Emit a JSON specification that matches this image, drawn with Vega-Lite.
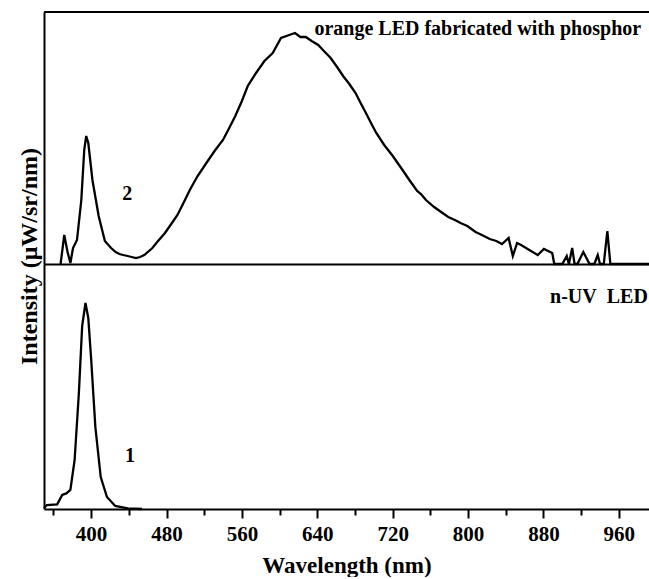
{
  "$schema": "https://vega.github.io/schema/vega-lite/v6.json",
  "padding": {"left": 16, "top": 11, "right": 0, "bottom": 0},
  "background": "white",
  "spacing": 0,
  "bounds": "flush",
  "config": {
    "view": {"stroke": null},
    "font": "Liberation Serif",
    "axis": {"grid": false, "domainColor": "black", "domainWidth": 2, "tickColor": "black", "labelColor": "black", "titleColor": "black"}
  },
  "datasets": {
    "orange": [
      {"wavelength": 367.6, "intensity": 0},
      {"wavelength": 371.5, "intensity": 29},
      {"wavelength": 375, "intensity": 12},
      {"wavelength": 378, "intensity": 1},
      {"wavelength": 380.8, "intensity": 16},
      {"wavelength": 385, "intensity": 24},
      {"wavelength": 389.6, "intensity": 64},
      {"wavelength": 392.7, "intensity": 114},
      {"wavelength": 394.8, "intensity": 128},
      {"wavelength": 397, "intensity": 121},
      {"wavelength": 401.4, "intensity": 84},
      {"wavelength": 408, "intensity": 48},
      {"wavelength": 414.6, "intensity": 23},
      {"wavelength": 421.2, "intensity": 16},
      {"wavelength": 426, "intensity": 12},
      {"wavelength": 430, "intensity": 10},
      {"wavelength": 434, "intensity": 9},
      {"wavelength": 438.8, "intensity": 8},
      {"wavelength": 443, "intensity": 7},
      {"wavelength": 447.6, "intensity": 6},
      {"wavelength": 452, "intensity": 7},
      {"wavelength": 456.4, "intensity": 9},
      {"wavelength": 465, "intensity": 16},
      {"wavelength": 471, "intensity": 23},
      {"wavelength": 478.4, "intensity": 31},
      {"wavelength": 485, "intensity": 40},
      {"wavelength": 491.6, "intensity": 49},
      {"wavelength": 498, "intensity": 61},
      {"wavelength": 504.7, "intensity": 74},
      {"wavelength": 513, "intensity": 88},
      {"wavelength": 522.3, "intensity": 101},
      {"wavelength": 531, "intensity": 113},
      {"wavelength": 539.9, "intensity": 124},
      {"wavelength": 546, "intensity": 135},
      {"wavelength": 553, "intensity": 148},
      {"wavelength": 560, "intensity": 163},
      {"wavelength": 566.2, "intensity": 178},
      {"wavelength": 575, "intensity": 191},
      {"wavelength": 583.9, "intensity": 203},
      {"wavelength": 592.7, "intensity": 211},
      {"wavelength": 601.5, "intensity": 226},
      {"wavelength": 610.2, "intensity": 229},
      {"wavelength": 616.4, "intensity": 231},
      {"wavelength": 622, "intensity": 227},
      {"wavelength": 627.8, "intensity": 227},
      {"wavelength": 634, "intensity": 223},
      {"wavelength": 641, "intensity": 219},
      {"wavelength": 647, "intensity": 213},
      {"wavelength": 654.2, "intensity": 206},
      {"wavelength": 661, "intensity": 197},
      {"wavelength": 667.4, "intensity": 188},
      {"wavelength": 674, "intensity": 180},
      {"wavelength": 680.6, "intensity": 171},
      {"wavelength": 686, "intensity": 161},
      {"wavelength": 691.6, "intensity": 151},
      {"wavelength": 697, "intensity": 141},
      {"wavelength": 702.6, "intensity": 131},
      {"wavelength": 711, "intensity": 119},
      {"wavelength": 720.1, "intensity": 108},
      {"wavelength": 729, "intensity": 96},
      {"wavelength": 737.7, "intensity": 84},
      {"wavelength": 746, "intensity": 73},
      {"wavelength": 750, "intensity": 70},
      {"wavelength": 755.3, "intensity": 64},
      {"wavelength": 764, "intensity": 57},
      {"wavelength": 772.9, "intensity": 51},
      {"wavelength": 779, "intensity": 47},
      {"wavelength": 786, "intensity": 44},
      {"wavelength": 792, "intensity": 41},
      {"wavelength": 799.2, "intensity": 38},
      {"wavelength": 808, "intensity": 32},
      {"wavelength": 816.8, "intensity": 28},
      {"wavelength": 823, "intensity": 25},
      {"wavelength": 830, "intensity": 23},
      {"wavelength": 836, "intensity": 20},
      {"wavelength": 843, "intensity": 26},
      {"wavelength": 847.5, "intensity": 8},
      {"wavelength": 852, "intensity": 21},
      {"wavelength": 856.3, "intensity": 19},
      {"wavelength": 865, "intensity": 14},
      {"wavelength": 873.9, "intensity": 9},
      {"wavelength": 880.5, "intensity": 15},
      {"wavelength": 889.3, "intensity": 11},
      {"wavelength": 891.5, "intensity": 0},
      {"wavelength": 900, "intensity": 0},
      {"wavelength": 904.7, "intensity": 8},
      {"wavelength": 907, "intensity": 0},
      {"wavelength": 910.5, "intensity": 16},
      {"wavelength": 913, "intensity": 0},
      {"wavelength": 916, "intensity": 0},
      {"wavelength": 922.3, "intensity": 12},
      {"wavelength": 928.9, "intensity": 0},
      {"wavelength": 934, "intensity": 0},
      {"wavelength": 937.6, "intensity": 9},
      {"wavelength": 940, "intensity": 0},
      {"wavelength": 944, "intensity": 0},
      {"wavelength": 947.8, "intensity": 33},
      {"wavelength": 951, "intensity": 0},
      {"wavelength": 992, "intensity": 0}
    ],
    "nuv": [
      {"wavelength": 350, "intensity": 1},
      {"wavelength": 353, "intensity": 4},
      {"wavelength": 364, "intensity": 4.6},
      {"wavelength": 369.3, "intensity": 14},
      {"wavelength": 373.7, "intensity": 15.6},
      {"wavelength": 378, "intensity": 19},
      {"wavelength": 382.5, "intensity": 49},
      {"wavelength": 387, "intensity": 116},
      {"wavelength": 390.5, "intensity": 183},
      {"wavelength": 394, "intensity": 206},
      {"wavelength": 397, "intensity": 191},
      {"wavelength": 400.1, "intensity": 149},
      {"wavelength": 404.5, "intensity": 82},
      {"wavelength": 410.2, "intensity": 32},
      {"wavelength": 416.8, "intensity": 12},
      {"wavelength": 425.6, "intensity": 3},
      {"wavelength": 438.8, "intensity": 0.6},
      {"wavelength": 454, "intensity": 0}
    ],
    "topLabels": [
      {"wavelength": 637, "intensity": 229, "label": "orange LED fabricated with phosphor"},
      {"wavelength": 433, "intensity": 64, "label": "2"}
    ],
    "bottomLabels": [
      {"wavelength": 887, "intensity": 206, "label": "n-UV\u00a0\u00a0LED"},
      {"wavelength": 436, "intensity": 47, "label": "1"}
    ]
  },
  "vconcat": [
    {
      "width": 605,
      "height": 252,
      "layer": [
        {
          "data": {"name": "orange"},
          "mark": {"type": "line", "color": "black", "strokeWidth": 2.3},
          "encoding": {
            "x": {"field": "wavelength", "type": "quantitative", "scale": {"domain": [350, 992], "nice": false, "zero": false}, "axis": {"labels": false, "ticks": false, "title": null}},
            "y": {"field": "intensity", "type": "quantitative", "scale": {"domain": [0, 252], "nice": false}, "axis": {"labels": false, "ticks": false, "title": null}}
          }
        },
        {
          "data": {"values": [{}]},
          "mark": {"type": "rule", "color": "black", "strokeWidth": 2},
          "encoding": {"y": {"datum": 252}}
        },
        {
          "data": {"name": "topLabels"},
          "mark": {"type": "text", "align": "left", "baseline": "alphabetic", "fontWeight": "bold", "fontSize": 20, "font": "Liberation Serif", "color": "black"},
          "encoding": {
            "x": {"field": "wavelength", "type": "quantitative"},
            "y": {"field": "intensity", "type": "quantitative"},
            "text": {"field": "label"}
          }
        }
      ]
    },
    {
      "width": 605,
      "height": 245,
      "layer": [
        {
          "data": {"name": "nuv"},
          "mark": {"type": "line", "color": "black", "strokeWidth": 2.3},
          "encoding": {
            "x": {
              "field": "wavelength", "type": "quantitative",
              "scale": {"domain": [350, 992], "nice": false, "zero": false},
              "axis": {
                "values": [360, 400, 440, 480, 520, 560, 600, 640, 680, 720, 760, 800, 840, 880, 920, 960],
                "labelExpr": "datum.value % 80 == 0 ? datum.label : ''",
                "tickSize": {"condition": {"test": "datum.value % 80 == 0", "value": 9}, "value": 6},
                "tickWidth": 2,
                "labelFontSize": 21,
                "labelFontWeight": "bold",
                "labelFont": "Liberation Serif",
                "labelPadding": 5,
                "labelFlush": false,
                "title": "Wavelength (nm)",
                "titleFontSize": 23,
                "titleFontWeight": "bold",
                "titleFont": "Liberation Serif",
                "titlePadding": 10
              }
            },
            "y": {
              "field": "intensity", "type": "quantitative",
              "scale": {"domain": [0, 245], "nice": false},
              "axis": {
                "labels": false, "ticks": false,
                "title": "Intensity (\u03bcW/sr/nm)",
                "titleFontSize": 24,
                "titleFontWeight": "bold",
                "titleFont": "Liberation Serif",
                "titleAngle": -90,
                "titleAlign": "center",
                "titleBaseline": "alphabetic",
                "titleX": -8,
                "titleY": -8
              }
            }
          }
        },
        {
          "data": {"name": "bottomLabels"},
          "mark": {"type": "text", "align": "left", "baseline": "alphabetic", "fontWeight": "bold", "fontSize": 20, "font": "Liberation Serif", "color": "black"},
          "encoding": {
            "x": {"field": "wavelength", "type": "quantitative"},
            "y": {"field": "intensity", "type": "quantitative"},
            "text": {"field": "label"}
          }
        }
      ]
    }
  ]
}
